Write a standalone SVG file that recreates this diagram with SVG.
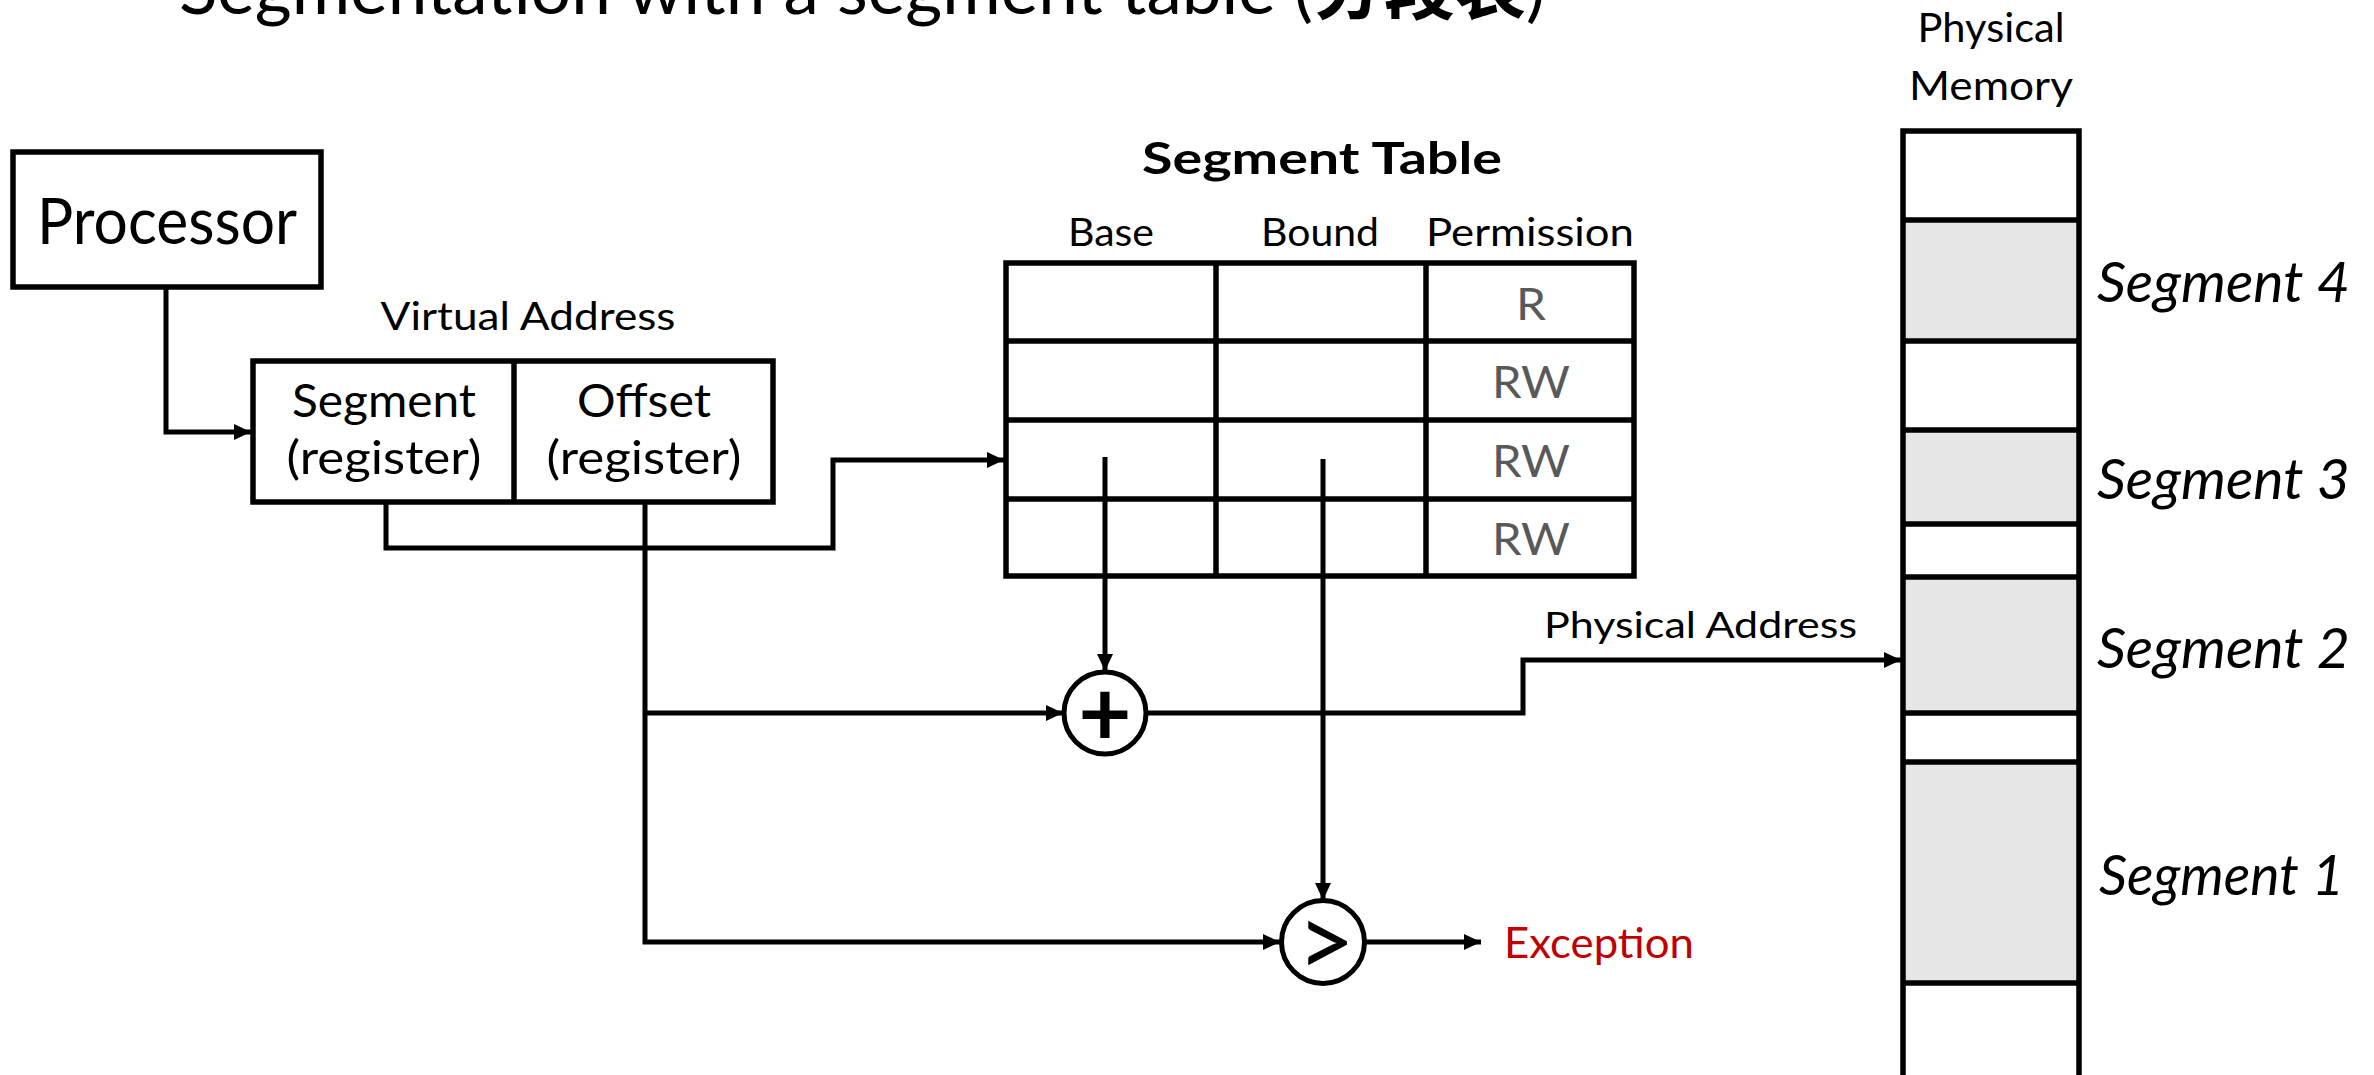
<svg xmlns="http://www.w3.org/2000/svg" width="2374" height="1075" viewBox="0 0 2374 1075">
<style>
  text { font-family: Lato, "Liberation Sans", "Noto Sans CJK SC", sans-serif; fill: #000; }
  .box { fill: #fff; stroke: #000; stroke-width: 5.5; }
  .grid { stroke: #000; stroke-width: 5.5; fill: none; }
  .wire { stroke: #000; stroke-width: 5; fill: none; }
  .mid { text-anchor: middle; }
  .perm { fill: #595959; font-size: 44px; text-anchor: middle; }
  .seglab { font-style: italic; font-size: 56px; }
  .mem { fill: #e6e6e6; stroke: none; }
</style>
<defs>
  <marker id="ah" markerUnits="userSpaceOnUse" markerWidth="18" markerHeight="16" refX="17" refY="8" orient="auto">
    <path d="M0,0 L17,8 L0,16 z" fill="#000"/>
  </marker>
</defs>
<rect width="2374" height="1075" fill="#fff"/>

<g id="title">
  <text x="179" y="14" font-size="70" textLength="1366" lengthAdjust="spacingAndGlyphs">Segmentation with a segment table (<tspan font-weight="bold">分段表</tspan>)</text>
</g>

<g id="processor">
  <rect class="box" x="13" y="152" width="308" height="135"/>
  <text class="mid" x="167" y="244" font-size="63" textLength="260" lengthAdjust="spacingAndGlyphs">Processor</text>
</g>

<g id="virtual-address">
  <text class="mid" x="528" y="330" font-size="39" textLength="295" lengthAdjust="spacingAndGlyphs">Virtual Address</text>
  <rect class="box" x="253" y="361" width="520" height="141"/>
  <line class="grid" x1="514" y1="361" x2="514" y2="502"/>
  <text class="mid" x="384" y="417" font-size="46" textLength="184" lengthAdjust="spacingAndGlyphs">Segment</text>
  <text class="mid" x="384" y="474" font-size="46" textLength="195" lengthAdjust="spacingAndGlyphs">(register)</text>
  <text class="mid" x="644" y="417" font-size="46" textLength="134" lengthAdjust="spacingAndGlyphs">Offset</text>
  <text class="mid" x="644" y="474" font-size="46" textLength="195" lengthAdjust="spacingAndGlyphs">(register)</text>
</g>

<g id="segment-table">
  <text class="mid" x="1322" y="174" font-size="43" font-weight="bold" textLength="360" lengthAdjust="spacingAndGlyphs">Segment Table</text>
  <text class="mid" x="1111" y="246" font-size="39" textLength="86" lengthAdjust="spacingAndGlyphs">Base</text>
  <text class="mid" x="1320" y="246" font-size="39" textLength="118" lengthAdjust="spacingAndGlyphs">Bound</text>
  <text class="mid" x="1530" y="246" font-size="39" textLength="208" lengthAdjust="spacingAndGlyphs">Permission</text>
  <rect class="box" x="1006" y="263" width="628" height="313"/>
  <path class="grid" d="M1006,341 H1634 M1006,420 H1634 M1006,499 H1634 M1216,263 V576 M1426,263 V576"/>
  <text class="perm" x="1531" y="320" textLength="30" lengthAdjust="spacingAndGlyphs">R</text>
  <text class="perm" x="1531" y="398" textLength="78" lengthAdjust="spacingAndGlyphs">RW</text>
  <text class="perm" x="1531" y="477" textLength="78" lengthAdjust="spacingAndGlyphs">RW</text>
  <text class="perm" x="1531" y="555" textLength="78" lengthAdjust="spacingAndGlyphs">RW</text>
</g>

<g id="adder">
  <circle cx="1105" cy="713" r="41" fill="#fff" stroke="#000" stroke-width="5"/>
  <text class="mid" x="1105" y="746" font-size="92" font-weight="bold">+</text>
</g>

<g id="comparator">
  <circle cx="1323" cy="942" r="41.5" fill="#fff" stroke="#000" stroke-width="5"/>
  <text class="mid" x="1326" y="977" font-size="100">&gt;</text>
</g>

<g id="exception">
  <text x="1504" y="958" font-size="43" style="fill:#c00000" textLength="190" lengthAdjust="spacingAndGlyphs">Exception</text>
</g>

<g id="physical-address-label">
  <text x="1544" y="638" font-size="37" textLength="313" lengthAdjust="spacingAndGlyphs">Physical Address</text>
</g>

<g id="physical-memory">
  <text class="mid" x="1991" y="42" font-size="41" textLength="147" lengthAdjust="spacingAndGlyphs">Physical</text>
  <text class="mid" x="1991" y="100" font-size="41" textLength="164" lengthAdjust="spacingAndGlyphs">Memory</text>
  <rect x="1903" y="131" width="176" height="960" fill="#fff" stroke="none"/>
  <rect class="mem" x="1903" y="220" width="176" height="121"/>
  <rect class="mem" x="1903" y="430" width="176" height="94"/>
  <rect class="mem" x="1903" y="577" width="176" height="136"/>
  <rect class="mem" x="1903" y="762" width="176" height="221"/>
  <path class="grid" d="M1903,1080 V131 H2079 V1080 M1903,220 H2079 M1903,341 H2079 M1903,430 H2079 M1903,524 H2079 M1903,577 H2079 M1903,713 H2079 M1903,762 H2079 M1903,983 H2079"/>
  <text class="seglab" x="2097" y="302" textLength="253" lengthAdjust="spacingAndGlyphs">Segment 4</text>
  <text class="seglab" x="2097" y="499" textLength="253" lengthAdjust="spacingAndGlyphs">Segment 3</text>
  <text class="seglab" x="2097" y="668" textLength="253" lengthAdjust="spacingAndGlyphs">Segment 2</text>
  <text class="seglab" x="2099" y="895" textLength="245" lengthAdjust="spacingAndGlyphs">Segment 1</text>
</g>

<g id="connectors">
  <path class="wire" d="M166,287 V432 H251" marker-end="url(#ah)"/>
  <path class="wire" d="M386,502 V548 H833 V460 H1004" marker-end="url(#ah)"/>
  <path class="wire" d="M645,502 V942 H1280" marker-end="url(#ah)"/>
  <path class="wire" d="M645,713 H1063" marker-end="url(#ah)"/>
  <path class="wire" d="M1105,457 V671" marker-end="url(#ah)"/>
  <path class="wire" d="M1323,459 V900" marker-end="url(#ah)"/>
  <path class="wire" d="M1146,713 H1523 V660 H1901" marker-end="url(#ah)"/>
  <path class="wire" d="M1365,942 H1481" marker-end="url(#ah)"/>
</g>
</svg>
